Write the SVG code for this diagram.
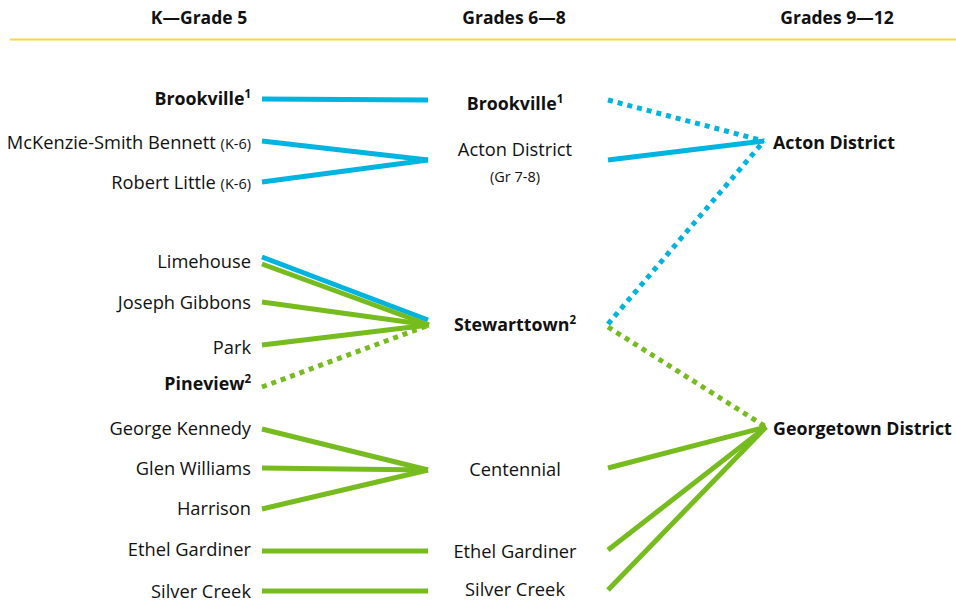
<svg xmlns="http://www.w3.org/2000/svg" width="956" height="605" viewBox="0 0 956 605">
  <style>
    text { font-family: "Open Sans", Lato, "Liberation Sans", sans-serif; fill: #111; font-size: 18.3px; }
    .hd { font-weight: bold; font-size: 17.5px; text-anchor: middle; }
    .l { text-anchor: end; }
    .m { text-anchor: middle; }
    .b { font-weight: bold; font-size: 17.8px; }
    .sm { font-size: 14.5px; }
    .sup { font-size: 11.5px; font-weight: bold; }
    .blue { stroke: #00B4E0; }
    .green { stroke: #77BC1F; }
    .conn line { stroke-width: 5; fill: none; }
    .dot { stroke-dasharray: 5 5; }
  </style>

  <!-- column headings -->
  <g id="headings">
    <text class="hd" x="199" y="24">K—Grade 5</text>
    <text class="hd" x="514" y="24">Grades 6—8</text>
    <text class="hd" x="837" y="24">Grades 9—12</text>
    <line x1="10" y1="39.5" x2="956" y2="39.5" stroke="#FFD633" stroke-width="2"/>
  </g>

  <!-- connectors -->
  <g id="connectors" class="conn">
    <!-- Acton family -->
    <line class="blue" x1="262" y1="99" x2="428" y2="100"/>
    <line class="blue" x1="262" y1="141" x2="428" y2="160"/>
    <line class="blue" x1="262" y1="182" x2="428" y2="160"/>
    <line class="blue" x1="262" y1="257" x2="428" y2="320"/>
    <line class="blue dot" x1="608" y1="100" x2="764" y2="141"/>
    <line class="blue" x1="608" y1="160" x2="764" y2="141"/>
    <line class="blue dot" x1="608" y1="324" x2="764" y2="141"/>
    <!-- Georgetown family -->
    <line class="green" x1="262" y1="264" x2="429" y2="325"/>
    <line class="green" x1="262" y1="302" x2="429" y2="325"/>
    <line class="green" x1="262" y1="345" x2="429" y2="325"/>
    <line class="green dot" x1="262" y1="387" x2="429" y2="325"/>
    <line class="green" x1="262" y1="429" x2="428" y2="470"/>
    <line class="green" x1="262" y1="468" x2="428" y2="470"/>
    <line class="green" x1="262" y1="509" x2="428" y2="470"/>
    <line class="green" x1="262" y1="551" x2="428" y2="551"/>
    <line class="green" x1="262" y1="591" x2="428" y2="591"/>
    <line class="green dot" x1="608" y1="327" x2="766" y2="427"/>
    <line class="green" x1="608" y1="468" x2="766" y2="427"/>
    <line class="green" x1="608" y1="550" x2="766" y2="427"/>
    <line class="green" x1="608" y1="590" x2="766" y2="427"/>
  </g>

  <!-- K to Grade 5 schools -->
  <g id="k5-brookville"><text class="l b" x="251" y="105">Brookville<tspan class="sup" dy="-7">1</tspan></text></g>
  <g id="k5-mckenzie"><text class="l" x="251" y="149">McKenzie-Smith Bennett <tspan class="sm">(K-6)</tspan></text></g>
  <g id="k5-robert-little"><text class="l" x="251" y="189">Robert Little <tspan class="sm">(K-6)</tspan></text></g>
  <g id="k5-limehouse"><text class="l" x="251" y="268">Limehouse</text></g>
  <g id="k5-joseph-gibbons"><text class="l" x="251" y="309">Joseph Gibbons</text></g>
  <g id="k5-park"><text class="l" x="251" y="354">Park</text></g>
  <g id="k5-pineview"><text class="l b" x="251" y="390">Pineview<tspan class="sup" dy="-7">2</tspan></text></g>
  <g id="k5-george-kennedy"><text class="l" x="251" y="435">George Kennedy</text></g>
  <g id="k5-glen-williams"><text class="l" x="251" y="475">Glen Williams</text></g>
  <g id="k5-harrison"><text class="l" x="251" y="515">Harrison</text></g>
  <g id="k5-ethel-gardiner"><text class="l" x="251" y="556">Ethel Gardiner</text></g>
  <g id="k5-silver-creek"><text class="l" x="251" y="598">Silver Creek</text></g>

  <!-- Grades 6 to 8 schools -->
  <g id="m-brookville"><text class="m b" x="515" y="110">Brookville<tspan class="sup" dy="-7">1</tspan></text></g>
  <g id="m-acton"><text class="m" x="515" y="156">Acton District</text><text class="m sm" x="515" y="182">(Gr 7-8)</text></g>
  <g id="m-stewarttown"><text class="m b" x="515" y="331">Stewarttown<tspan class="sup" dy="-7">2</tspan></text></g>
  <g id="m-centennial"><text class="m" x="515" y="476">Centennial</text></g>
  <g id="m-ethel-gardiner"><text class="m" x="515" y="558">Ethel Gardiner</text></g>
  <g id="m-silver-creek"><text class="m" x="515" y="596">Silver Creek</text></g>

  <!-- Grades 9 to 12 schools -->
  <g id="h-acton"><text class="b" x="773" y="149">Acton District</text></g>
  <g id="h-georgetown"><text class="b" x="773" y="435">Georgetown District</text></g>
</svg>
